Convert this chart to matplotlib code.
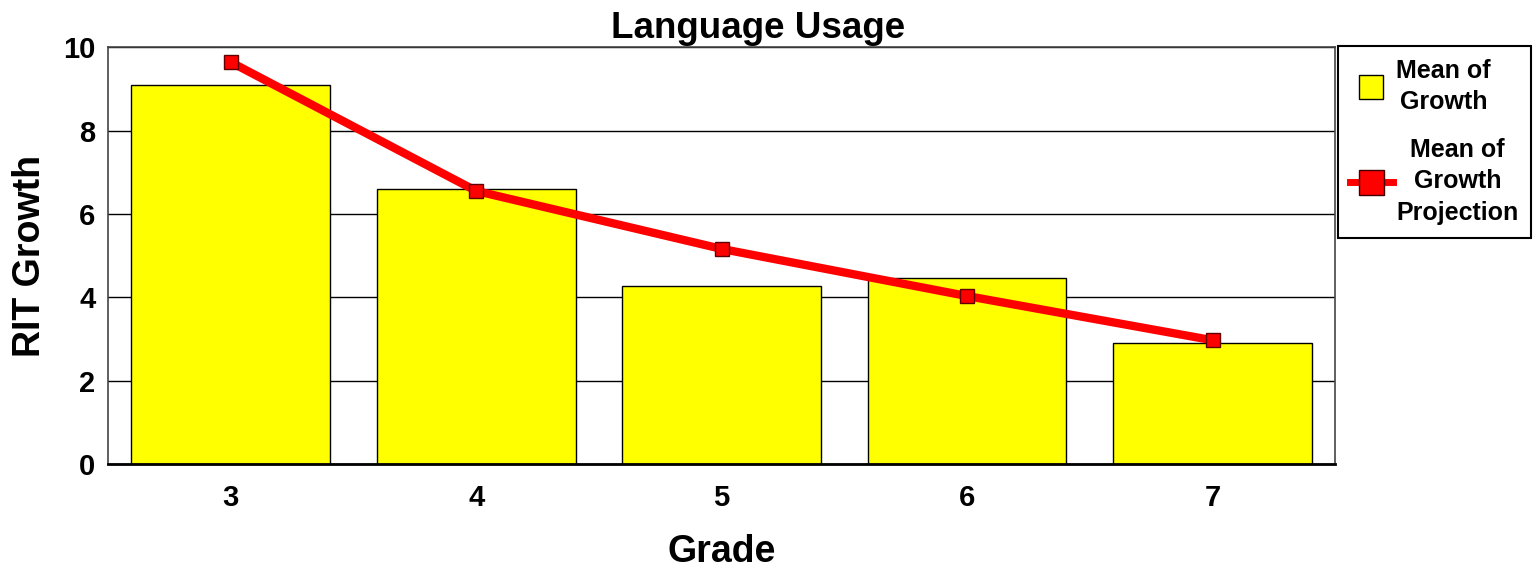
import matplotlib.pyplot as plt
from matplotlib.lines import Line2D

plt.rcParams['font.family'] = ['Liberation Sans', 'DejaVu Sans']
plt.rcParams['font.weight'] = 'bold'

# 데이터
grades = ['3', '4', '5', '6', '7']
mean_growth = [9.09, 6.59, 4.27, 4.46, 2.90]
growth_projection = [9.64, 6.55, 5.16, 4.03, 2.97]

fig = plt.figure(figsize=(15.33, 5.68), dpi=100)
ax = fig.add_axes([0.0705, 0.183, 0.8005, 0.734])

x = range(len(grades))
ax.set_axisbelow(True)
ax.yaxis.grid(True, color='black', linewidth=1)
ax.bar(x, mean_growth, width=0.81, color='#ffff00', edgecolor='black', linewidth=1, zorder=2)
ax.plot(x, growth_projection, color='#ff0000', linewidth=6, marker='s', markersize=10,
        markerfacecolor='#ff0000', markeredgecolor='#600000', markeredgewidth=1, zorder=3)

ax.set_xlim(-0.5, len(grades) - 0.5)
ax.set_ylim(0, 10)
ax.set_xticks(list(x))
ax.set_xticklabels(grades)
ax.set_yticks([0, 2, 4, 6, 8, 10])
ax.tick_params(length=0, labelsize=21)
ax.tick_params(axis='x', pad=14)
ax.tick_params(axis='y', pad=9)
for lab in ax.get_xticklabels() + ax.get_yticklabels():
    lab.set_fontweight('bold')

for side in ['top', 'right', 'left']:
    ax.spines[side].set_color('#444444')
    ax.spines[side].set_linewidth(1.2)
ax.spines['bottom'].set_linewidth(2)
ax.spines['bottom'].set_color('black')

fig.text(0.4945, 1 - 28 / 568, 'Language Usage', fontsize=26.5, fontweight='bold',
         ha='center', va='center')
ax.set_xlabel('Grade', fontsize=27, fontweight='bold', labelpad=16)
ax.set_ylabel('RIT Growth', fontsize=27, fontweight='bold', labelpad=11)

handles = [
    Line2D([0], [0], linestyle='none', marker='s', markersize=17,
           markerfacecolor='#ffff00', markeredgecolor='black', markeredgewidth=1),
    Line2D([0], [0], color='#ff0000', linewidth=5, marker='s', markersize=18,
           markerfacecolor='#ff0000', markeredgecolor='#400000', markeredgewidth=1),
]
labels = ['Mean of\nGrowth', 'Mean of\nGrowth\nProjection']
leg = fig.legend(handles, labels, loc='upper left', bbox_to_anchor=(0.8725, 0.919),
                 fancybox=False, edgecolor='black', framealpha=1,
                 prop={'size': 18, 'weight': 'bold'}, handlelength=1.7,
                 labelspacing=0.95, borderpad=0.5, handletextpad=0.15, borderaxespad=0)
leg.get_frame().set_linewidth(1.5)
for t in leg.get_texts():
    t.set_multialignment('center')
    t.set_linespacing(1.4)

plt.savefig('out.png', dpi=100)
